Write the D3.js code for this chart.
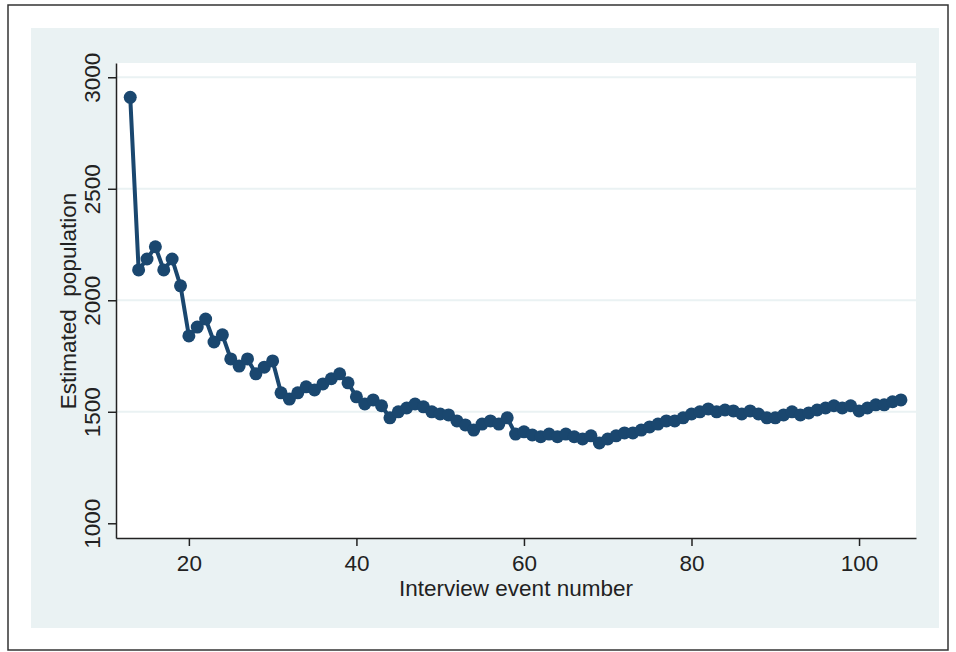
<!DOCTYPE html>
<html lang="en">
<head>
    <meta charset="UTF-8">
    <title>Estimated population by interview event</title>
    <script src="https://d3js.org/d3.v7.min.js"></script>
    <style>
        body { margin: 0; background: #fff; }
        text { font-family: "Liberation Sans", Arial, sans-serif; fill: #222; }
    </style>
</head>
<body>
    <svg id="chart" width="956" height="652"></svg>

    <script>
        // interview event numbers 13..105 and the estimate after each one
        const eventNumbers = d3.range(13, 106);
        const estimates = [
            2910, 2136, 2185, 2240, 2136, 2185, 2065, 1840, 1880, 1916,
            1813, 1845, 1737, 1705, 1737, 1670, 1700, 1728, 1585, 1557,
            1585, 1612, 1598, 1625, 1648, 1670, 1630, 1567, 1535, 1553,
            1527, 1473, 1500, 1517, 1535, 1522, 1500, 1490, 1486, 1459,
            1441, 1418, 1445, 1459, 1445, 1473, 1400, 1410, 1396, 1388,
            1400, 1388, 1400, 1388, 1378, 1392, 1360, 1378, 1392, 1405,
            1405, 1418, 1432, 1445, 1459, 1459, 1473, 1490, 1500, 1513,
            1500, 1508, 1504, 1490, 1504, 1490, 1473, 1473, 1486, 1500,
            1486, 1495, 1508, 1517, 1527, 1517, 1527, 1504, 1517, 1531,
            1531, 1545, 1553
        ];
        const xTicks = [20, 40, 60, 80, 100];
        const yTicks = [1000, 1500, 2000, 2500, 3000];
        const gridTicks = [1500, 2000, 2500, 3000];

        const data = eventNumbers.map((n, i) => ({n: n, est: estimates[i]}));

        const svg = d3.select("#chart");
        const plotL = 116, plotR = 916, plotT = 63, plotB = 538;
        const fontSize = 22.5;

        // outer frame and light blue graph region
        svg.append("rect")
            .attr("x", 8).attr("y", 5)
            .attr("width", 940).attr("height", 645)
            .attr("fill", "white")
            .attr("stroke", "#333").attr("stroke-width", 1.5);
        svg.append("rect")
            .attr("x", 31).attr("y", 28)
            .attr("width", 908).attr("height", 600)
            .attr("fill", "#eaf2f3");
        svg.append("rect")
            .attr("x", plotL).attr("y", plotT)
            .attr("width", plotR - plotL).attr("height", plotB - plotT)
            .attr("fill", "white");

        const x = d3.scaleLinear().domain([11.3, 106.8]).range([plotL, plotR]);
        const y = d3.scaleLinear().domain([934, 3064]).range([plotB, plotT]);

        svg.append("g")
            .selectAll("line")
            .data(gridTicks)
            .enter().append("line")
            .attr("x1", plotL).attr("x2", plotR)
            .attr("y1", d => y(d)).attr("y2", d => y(d))
            .attr("stroke", "#eaf2f3").attr("stroke-width", 2);

        const xAxis = svg.append("g")
            .attr("transform", `translate(0,${plotB})`)
            .call(d3.axisBottom(x).tickValues(xTicks).tickFormat(d3.format("d"))
                .tickSize(8).tickPadding(9).tickSizeOuter(0));
        xAxis.select(".domain").attr("stroke", "#222").attr("stroke-width", 1.5);
        xAxis.selectAll(".tick line").attr("stroke", "#222").attr("stroke-width", 1.5);
        xAxis.selectAll(".tick text").attr("font-size", fontSize).attr("fill", "#222")
            .attr("font-family", "Liberation Sans, Arial, sans-serif");

        const yAxis = svg.append("g")
            .attr("transform", `translate(${plotL},0)`)
            .call(d3.axisLeft(y).tickValues(yTicks).tickFormat(d3.format("d"))
                .tickSize(8).tickSizeOuter(0));
        yAxis.select(".domain").attr("stroke", "#222").attr("stroke-width", 1.5);
        yAxis.selectAll(".tick line").attr("stroke", "#222").attr("stroke-width", 1.5);
        yAxis.selectAll(".tick text")
            .attr("font-size", fontSize).attr("fill", "#222")
            .attr("font-family", "Liberation Sans, Arial, sans-serif")
            .attr("x", 0).attr("dy", null)
            .attr("text-anchor", "middle")
            .attr("transform", "translate(-16,0) rotate(-90)");

        svg.append("text")
            .attr("x", 516).attr("y", 596)
            .attr("text-anchor", "middle")
            .attr("font-size", fontSize)
            .text("Interview event number");

        svg.append("text")
            .attr("transform", `translate(76,301) rotate(-90)`)
            .attr("text-anchor", "middle")
            .attr("font-size", fontSize)
            .style("white-space", "pre")
            .text("Estimated  population");

        const line = d3.line().x(d => x(d.n)).y(d => y(d.est));
        svg.append("path")
            .datum(data)
            .attr("fill", "none")
            .attr("stroke", "#1a476f")
            .attr("stroke-width", 4)
            .attr("stroke-linejoin", "round")
            .attr("d", line);

        svg.append("g")
            .selectAll("circle")
            .data(data)
            .enter().append("circle")
            .attr("cx", d => x(d.n))
            .attr("cy", d => y(d.est))
            .attr("r", 6.5)
            .attr("fill", "#1a476f");
    </script>
</body>
</html>
